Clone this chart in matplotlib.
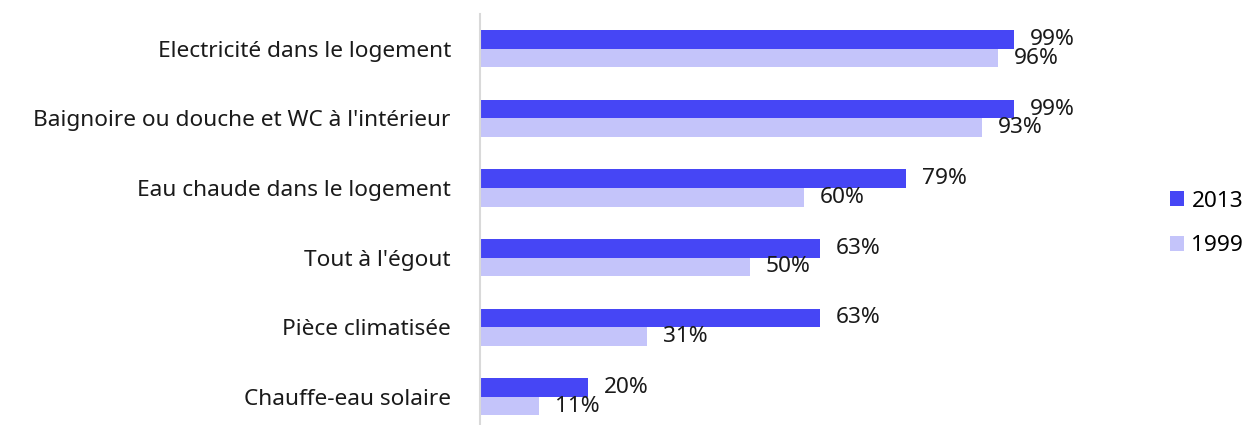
import numpy as np
import matplotlib
matplotlib.use('Agg')
import matplotlib.pyplot as plt

# データ
categories = ['Electricité dans le logement',
              "Baignoire ou douche et WC à l'intérieur",
              'Eau chaude dans le logement',
              "Tout à l'égout",
              'Pièce climatisée',
              'Chauffe-eau solaire']
values_2013 = [99, 99, 79, 63, 63, 20]
values_1999 = [96, 93, 60, 50, 31, 11]
series_names = ['2013', '1999']

plt.rcParams['font.family'] = ['Noto Sans', 'DejaVu Sans']
fs = 16.3

W, H = 1251, 425
fig = plt.figure(figsize=(W / 100, H / 100), dpi=100)
ax = fig.add_axes([480 / W, 0, (1150 - 480) / W, (H - 14) / H])

y = np.arange(len(categories))
h = 0.266
c2013 = '#4646F5'
c1999 = '#C4C4FA'
b1 = ax.barh(y - h / 2, values_2013, height=h, color=c2013, label=series_names[0])
b2 = ax.barh(y + h / 2, values_1999, height=h, color=c1999, label=series_names[1])

ax.set_xlim(0, 124.2)
ax.set_ylim(5.405, -0.5)

# ラベル
off = 16 / 5.394
for yi, v in zip(y, values_2013):
    ax.text(v + off, yi - h / 2, f'{v}%', va='center', ha='left', fontsize=fs, color='#1a1a1a')
for yi, v in zip(y, values_1999):
    ax.text(v + off, yi + h / 2, f'{v}%', va='center', ha='left', fontsize=fs, color='#1a1a1a')

ax.set_yticks(y)
ax.set_yticklabels(categories, fontsize=fs, color='#1a1a1a')
ax.tick_params(axis='y', length=0, pad=21)
ax.set_xticks([])
for s in ['top', 'right', 'bottom']:
    ax.spines[s].set_visible(False)
ax.spines['left'].set_color('#d9d9d9')
ax.spines['left'].set_linewidth(1.5)

fig.legend(handles=[b1, b2], loc='center left', bbox_to_anchor=(1150 / W, 1 - 223.5 / H),
           frameon=False, fontsize=fs, handlelength=0.62, handleheight=0.62,
           handletextpad=0.31, labelspacing=1.05)

fig.savefig('out.png', dpi=100)
